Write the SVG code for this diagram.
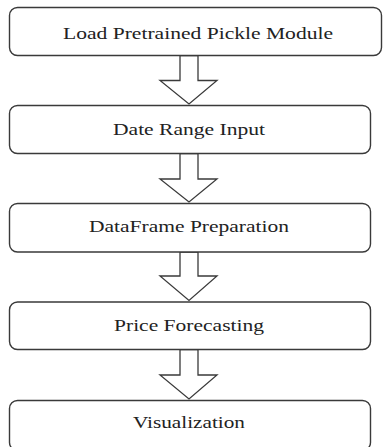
<svg xmlns="http://www.w3.org/2000/svg" width="383" height="447" viewBox="0 0 383 447">
<style>
.box{fill:#fff;stroke:#3a3a3a;stroke-width:1.4}
.arr{fill:#fff;stroke:#3a3a3a;stroke-width:1.3;stroke-linejoin:miter}
.lbl{font-family:"Liberation Serif","Times New Roman",serif;font-size:16.5px;fill:#222;text-anchor:middle}
</style>
<rect width="383" height="447" fill="#fff"/>
<g id="connectors">
<polygon class="arr" points="180,55.5 198,55.5 198,80.5 217,80.5 189,104 160,80.5 180,80.5"/>
<polygon class="arr" points="180,153.5 198,153.5 198,179 217,179 189,202 160,179 180,179"/>
<polygon class="arr" points="180,252 198,252 198,276 217,276 189,300.5 160,276 180,276"/>
<polygon class="arr" points="180,349.5 198,349.5 198,375 217,375 189,399 160,375 180,375"/>
</g>
<g id="n1"><rect class="box" x="9.5" y="7.5" width="372" height="48" rx="8"/><text class="lbl" x="198" y="38.5" textLength="270" lengthAdjust="spacingAndGlyphs">Load Pretrained Pickle Module</text></g>
<g id="n2"><rect class="box" x="9.5" y="105.5" width="361" height="48" rx="8"/><text class="lbl" x="189" y="135" textLength="152" lengthAdjust="spacingAndGlyphs">Date Range Input</text></g>
<g id="n3"><rect class="box" x="9.5" y="203.5" width="361" height="48.5" rx="8"/><text class="lbl" x="189" y="232" textLength="200" lengthAdjust="spacingAndGlyphs">DataFrame Preparation</text></g>
<g id="n4"><rect class="box" x="9.5" y="302" width="361" height="47.5" rx="8"/><text class="lbl" x="189" y="331" textLength="150" lengthAdjust="spacingAndGlyphs">Price Forecasting</text></g>
<g id="n5"><rect class="box" x="9.5" y="400.5" width="361" height="50" rx="8"/><text class="lbl" x="189" y="428" textLength="112" lengthAdjust="spacingAndGlyphs">Visualization</text></g>
</svg>
